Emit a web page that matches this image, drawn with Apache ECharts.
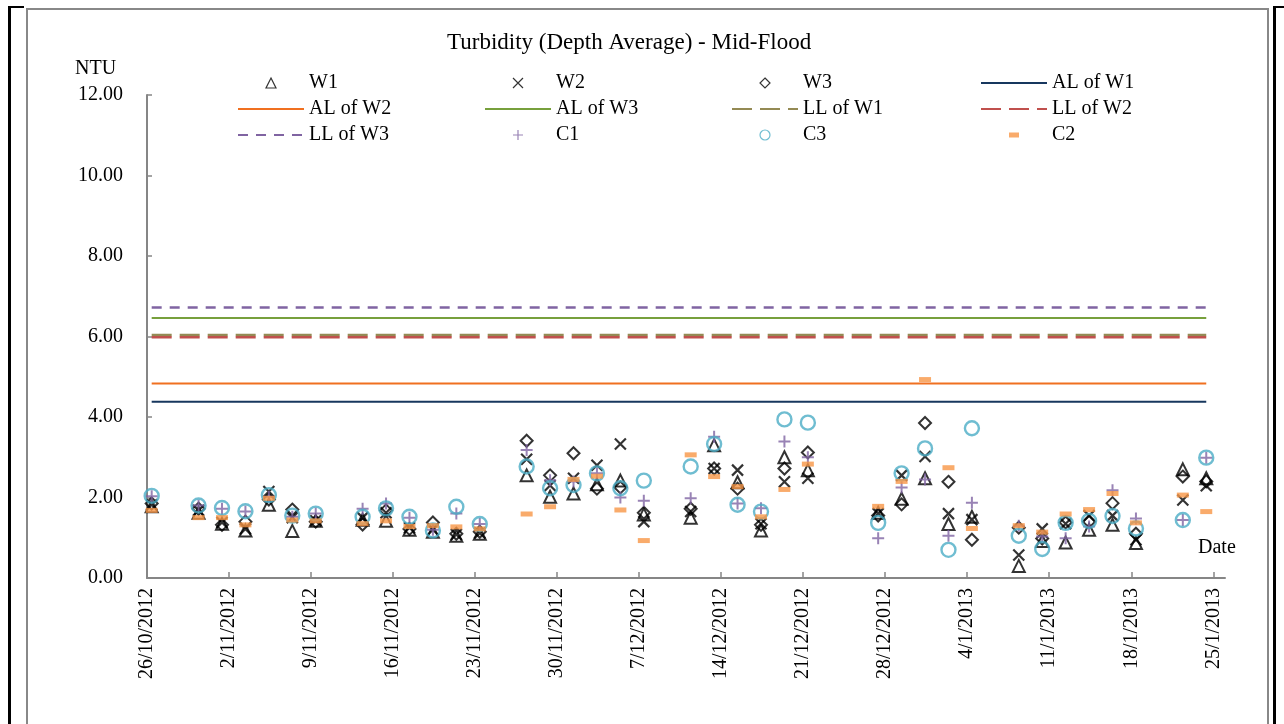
<!DOCTYPE html>
<html><head><meta charset="utf-8">
<script src="https://cdn.jsdelivr.net/npm/echarts@6/dist/echarts.min.js"></script>
<style>html,body{margin:0;padding:0;background:#fff}#c{width:1284px;height:724px}</style>
</head><body><div id="c"></div>
<script>
// ---- data ----
const dates = ['26/10/2012','30/10/2012','1/11/2012','3/11/2012','5/11/2012','7/11/2012','9/11/2012',
  '13/11/2012','15/11/2012','17/11/2012','19/11/2012','21/11/2012','23/11/2012',
  '27/11/2012','29/11/2012','1/12/2012','3/12/2012','5/12/2012','7/12/2012',
  '11/12/2012','13/12/2012','15/12/2012','17/12/2012','19/12/2012','21/12/2012',
  '27/12/2012','29/12/2012','31/12/2012','2/1/2013','4/1/2013',
  '8/1/2013','10/1/2013','12/1/2013','14/1/2013','16/1/2013','18/1/2013',
  '22/1/2013','24/1/2013'];
const W1 = [1.78,1.62,1.35,1.18,1.82,1.17,1.42, 1.45,1.42,1.20,1.15,1.05,1.10, 2.55,2.02,2.10,2.33,2.42,1.58, 1.50,3.30,2.38,1.18,3.00,2.68, 1.62,1.97,2.48,1.34,1.52, 0.30,0.92,0.88,1.20,1.32,0.87, 2.70,2.48];
const W2 = [1.82,1.68,1.38,1.22,2.15,1.50,1.42, 1.50,1.62,1.25,1.20,1.08,1.12, 2.95,2.30,2.48,2.80,3.33,1.40, 1.65,2.72,2.68,1.35,2.39,2.48, 1.60,2.55,3.02,1.60,1.45, 0.57,1.22,1.35,1.55,1.55,0.95, 1.94,2.29];
const W3 = [1.85,1.72,1.32,1.40,1.95,1.70,1.40, 1.33,1.68,1.22,1.38,1.10,1.15, 3.41,2.55,3.10,2.22,2.25,1.62, 1.72,2.72,2.22,1.32,2.72,3.12, 1.55,1.83,3.85,2.39,0.95, 1.25,0.98,1.38,1.40,1.86,1.10, 2.52,2.40];
const C1 = [2.03,1.80,1.72,1.65,2.02,1.52,1.60, 1.72,1.85,1.50,1.20,1.60,1.34, 3.18,2.43,2.40,2.60,2.00,1.92, 1.98,3.51,1.85,1.73,3.39,3.00, 0.99,2.25,2.45,1.05,1.87, 1.30,1.03,0.99,1.28,2.18,1.48, 1.44,2.99];
const C3 = [2.04,1.80,1.74,1.66,2.06,1.55,1.60, 1.52,1.73,1.52,1.18,1.77,1.34, 2.77,2.23,2.31,2.60,2.23,2.42, 2.77,3.33,1.82,1.65,3.94,3.86, 1.37,2.60,3.22,0.70,3.72, 1.05,0.72,1.37,1.42,1.54,1.23, 1.44,2.99];
const C2 = [1.68,1.50,1.50,1.32,1.98,1.44,1.42, 1.35,1.42,1.28,1.30,1.27,1.22, 1.59,1.77,2.45,2.53,1.69,0.93, 3.06,2.52,2.27,1.52,2.20,2.83, 1.78,2.40,4.93,2.74,1.23, 1.30,1.14,1.59,1.70,2.10,1.37, 2.06,1.65];
const AL_W1 = 4.38, AL_W2 = 4.83, AL_W3 = 6.46;
const LL_W1 = 6.04, LL_W2 = 5.98, LL_W3 = 6.72;
const xTickLabels = ['26/10/2012','2/11/2012','9/11/2012','16/11/2012','23/11/2012','30/11/2012','7/12/2012',
  '14/12/2012','21/12/2012','28/12/2012','4/1/2013','11/1/2013','18/1/2013','25/1/2013'];
const xAxisEnd = '26/1/2013';
const yTicks = [0,2,4,6,8,10,12];

// ---- helpers ----
const ORIGIN = Date.UTC(2012, 9, 26);
function dayIndex(s) { const p = s.split('/').map(Number); return (Date.UTC(p[2], p[1]-1, p[0]) - ORIGIN) / 86400000; }
const POINT_SHIFT = 0.4; // date-axis points sit inside their day slot
const px = dates.map(d => dayIndex(d) + POINT_SHIFT);
const pts = arr => arr.map((v, i) => [px[i], v]);
const hline = v => [[px[0], v], [px[px.length-1], v]];
const tickDays = xTickLabels.map(dayIndex);
const labelOf = {}; xTickLabels.forEach((l, i) => labelOf[tickDays[i]] = l);

const FONT = 'Liberation Serif';
const FS = 20;
const CROSS = 'path://M0,0L10,10M10,0L0,10';
const PLUS = 'path://M5,0L5,10M0,5L10,5';
const TRI_ICON = 'path://M5,0L10,10L0,10Z';
const DIA_ICON = 'path://M5,0L10,5L5,10L0,5Z';
const DASH_ICON = 'path://M0,0h10v5h-10z';

const scatter = (name, data, symbol, size, style) => ({
  name, type: 'scatter', data, symbol, symbolSize: size, itemStyle: style, silent: true
});
const line = (name, v, color, width, type) => ({
  name, type: 'line', data: hline(v), symbol: 'none', silent: true,
  lineStyle: { color, width, type }, itemStyle: { color }
});
const HIDE_DOT = { color: 'rgba(0,0,0,0)', borderColor: 'rgba(0,0,0,0)', borderWidth: 0 };
const lineItem = name => ({ name, itemStyle: HIDE_DOT });

const legendBase = {
  orient: 'vertical', top: 73, itemWidth: 66, itemHeight: 10, itemGap: 6, padding: 0,
  selectedMode: false, symbolKeepAspect: true,
  itemStyle: { borderWidth: 1.2 },
  textStyle: { fontFamily: FONT, fontSize: FS, color: '#000', lineHeight: 20 }
};

const chart = echarts.init(document.getElementById('c'));
chart.setOption({
  animation: false,
  backgroundColor: '#fff',
  title: { text: 'Turbidity (Depth Average) - Mid-Flood', left: 442, top: 26,
    textStyle: { fontFamily: FONT, fontSize: 23, fontWeight: 'normal', color: '#000' } },
  legend: [
    Object.assign({}, legendBase, { left: 237, data: [{ name: 'W1', icon: TRI_ICON }, lineItem('AL of W2'), lineItem('LL of W3')] }),
    Object.assign({}, legendBase, { left: 484, data: ['W2', lineItem('AL of W3'), 'C1'] }),
    Object.assign({}, legendBase, { left: 731, data: [{ name: 'W3', icon: DIA_ICON }, lineItem('LL of W1'), 'C3'] }),
    Object.assign({}, legendBase, { left: 980, itemHeight: 5, itemGap: 6,
      data: [lineItem('AL of W1'), lineItem('LL of W2'), { name: 'C2', icon: DASH_ICON }] })
  ],
  grid: { left: 147, right: 59, top: 95, bottom: 146, outerBoundsMode: 'none' },
  xAxis: {
    type: 'value', min: 0, max: dayIndex(xAxisEnd),
    axisLine: { lineStyle: { color: '#868686', width: 2 } },
    axisTick: { show: true, inside: true, length: 6, customValues: tickDays, lineStyle: { color: '#868686', width: 1.5 } },
    axisLabel: { customValues: tickDays, rotate: 90, margin: 10, formatter: v => labelOf[v] || '',
      fontFamily: FONT, fontSize: FS, color: '#000' },
    splitLine: { show: false }
  },
  yAxis: {
    type: 'value', min: yTicks[0], max: yTicks[yTicks.length-1], interval: yTicks[1] - yTicks[0],
    axisLine: { show: true, lineStyle: { color: '#868686', width: 2 } },
    axisTick: { show: true, inside: true, length: 5, lineStyle: { color: '#868686', width: 1.5 } },
    axisLabel: { margin: 24, formatter: v => v.toFixed(2), fontFamily: FONT, fontSize: FS, color: '#000' },
    splitLine: { show: false }
  },
  graphic: [
    { type: 'text', left: 75, top: 59, style: { text: 'NTU', font: FS + 'px "Liberation Serif"', fill: '#000' } },
    { type: 'text', left: 1198, top: 538, style: { text: 'Date', font: FS + 'px "Liberation Serif"', fill: '#000' } },
    { type: 'rect', shape: { x: 8, y: 6, width: 3, height: 720 }, style: { fill: '#000' } },
    { type: 'rect', shape: { x: 8, y: 6, width: 16, height: 2 }, style: { fill: '#000' } },
    { type: 'rect', shape: { x: 1273, y: 6, width: 3, height: 720 }, style: { fill: '#000' } },
    { type: 'rect', shape: { x: 1273, y: 6, width: 11, height: 2 }, style: { fill: '#000' } },
    { type: 'polyline', shape: { points: [[27, 726], [27, 9], [1268, 9], [1268, 726]] },
      style: { stroke: '#888', lineWidth: 2, fill: 'none' } }
  ],
  series: [
    scatter('W1', pts(W1), 'triangle', 12, { color: 'rgba(0,0,0,0)', borderColor: '#000', borderWidth: 2 }),
    scatter('W2', pts(W2), CROSS, 11, { color: '#000', borderColor: '#000', borderWidth: 2.2 }),
    scatter('W3', pts(W3), 'diamond', 12, { color: 'rgba(0,0,0,0)', borderColor: '#000', borderWidth: 2 }),
    line('AL of W1', AL_W1, '#17375e', 2, 'solid'),
    line('AL of W2', AL_W2, '#f07020', 2, 'solid'),
    line('AL of W3', AL_W3, '#77a03c', 2, 'solid'),
    line('LL of W1', LL_W1, '#948a54', 2.5, [20, 8]),
    line('LL of W2', LL_W2, '#c0504d', 2.5, [20, 8]),
    line('LL of W3', LL_W3, '#8064a2', 2.5, [10, 8]),
    scatter('C1', pts(C1), PLUS, 12, { color: '#8064a2', borderColor: '#8064a2', borderWidth: 2 }),
    scatter('C3', pts(C3), 'circle', 14, { color: 'rgba(0,0,0,0)', borderColor: '#4bacc6', borderWidth: 2.4 }),
    scatter('C2', pts(C2), 'rect', [12, 5], { color: '#f79646' })
  ]
});
</script></body></html>
